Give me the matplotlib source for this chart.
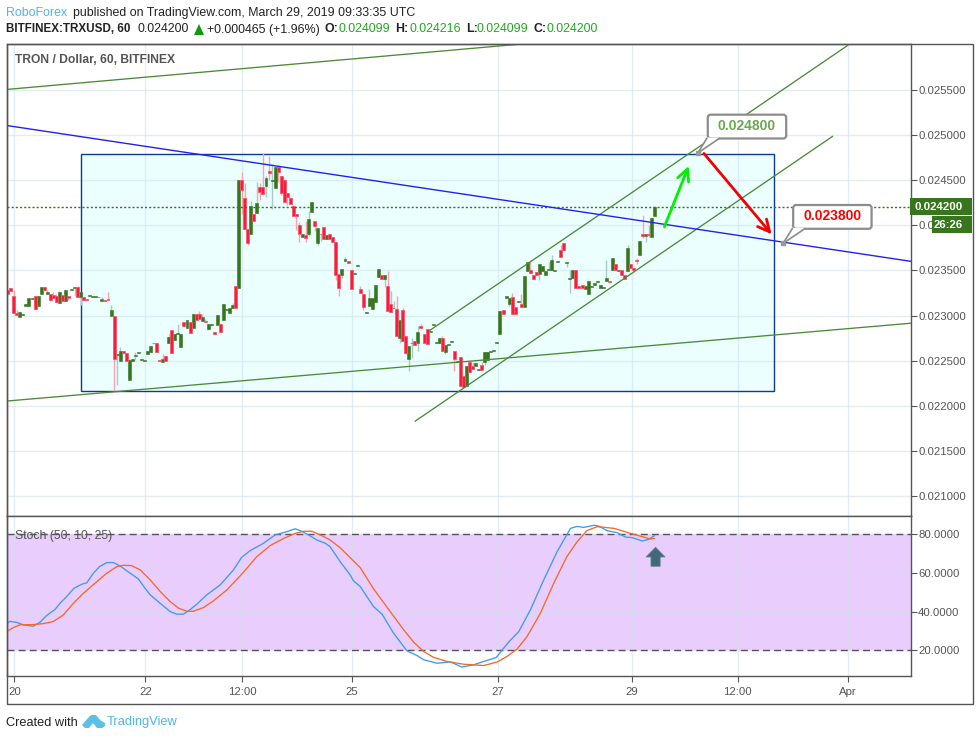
import matplotlib
matplotlib.use('Agg')
import matplotlib.pyplot as plt
from matplotlib.patches import Rectangle, Polygon, FancyBboxPatch
from matplotlib.transforms import Affine2D
import numpy as np

plt.rcParams['font.family'] = ['Liberation Sans', 'DejaVu Sans']

# hourly candles, prices in millionths of a dollar
opens = [
    23280, 23310, 23214, 23033, 22985, 23008, 23103, 23111, 23184, 23214,
    23107, 23240, 23314, 23240, 23236, 23225, 23214, 23140, 23232, 23162,
    23214, 23284, 23306, 23314, 23207, 23210, 23188, 23218, 23207, 23207,
    23203, 23162, 23177, 23181, 22993, 22993, 22565, 22499, 22613, 22591,
    22285, 22499, 22550, 22587, 22510, 22499, 22572, 22595, 22694, 22701,
    22506, 22484, 22547, 22694, 22838, 22727, 22794, 22650, 22926, 22864,
    22926, 22864, 23022, 23015, 22941, 22937, 22849, 22893, 22816, 22893,
    22912, 22949, 23059, 23026, 23085, 23332, 23306, 24504, 24305, 23962,
    23899, 24128, 24132, 24419, 24426, 24430, 24596, 24489, 24408, 24640,
    24548, 24504, 24353, 24305, 24209, 24128, 24006, 23866, 23896, 23899,
    24143, 24050, 23800, 23899, 23984, 23848, 23907, 23873, 23818, 23464,
    23446, 23604, 23608, 23508, 23461, 23549, 23298, 23243, 23033, 23103,
    23070, 23147, 23424, 23453, 23402, 23332, 23125, 23081, 23070, 22753,
    23066, 22771, 22517, 22694, 22713, 22698, 22882, 22801, 22856, 22819,
    22897, 22698, 22698, 22749, 22595, 22672, 22709, 22606, 22488, 22539,
    22336, 22222, 22484, 22440, 22440, 22399, 22451, 22488, 22506, 22598,
    22609, 22698, 22797, 23059, 23196, 23125, 23203, 23100, 23151, 23133,
    23096, 23494, 23509, 23454, 23479, 23465, 23494, 23450, 23505, 23502,
    23494, 23594, 23730, 23808, 23579, 23406, 23417, 23509, 23328, 23336,
    23291, 23240, 23317, 23336, 23372, 23306, 23306, 23380, 23380, 23502,
    23568, 23494, 23509, 23454, 23494, 23568, 23531, 23612, 23671, 23904,
    23878, 23904, 23870, 24099]
closes = [
    23243, 23273, 23030, 23004, 23037, 23015, 23125, 23199, 23196, 23074,
    23214, 23314, 23284, 23258, 23170, 23196, 23151, 23258, 23162, 23280,
    23192, 23291, 23314, 23207, 23258, 23173, 23173, 23225, 23218, 23214,
    23210, 23181, 23162, 23173, 23059, 22521, 22580, 22606, 22591, 22499,
    22506, 22517, 22558, 22595, 22517, 22506, 22606, 22661, 22701, 22598,
    22499, 22517, 22499, 22760, 22587, 22801, 22805, 22801, 22886, 22949,
    22808, 23015, 22956, 22963, 22982, 22930, 22904, 22904, 22797, 23004,
    22819, 23133, 23070, 23081, 23114, 23085, 24497, 24386, 23958, 23803,
    24209, 24043, 24242, 24364, 24345, 24519, 24574, 24497, 24644, 24589,
    24353, 24257, 24312, 24231, 24102, 24102, 23903, 23899, 23859, 24073,
    24253, 23988, 23973, 23907, 23848, 23888, 23848, 23814, 23446, 23306,
    23512, 23623, 23578, 23295, 23468, 23556, 23250, 23095, 23040, 23191,
    23191, 23335, 23512, 23405, 23453, 23047, 23041, 23089, 22771, 22949,
    22720, 22587, 22661, 22701, 22672, 22816, 22864, 22698, 22690, 22827,
    22904, 22705, 22749, 22609, 22679, 22690, 22716, 22521, 22495, 22222,
    22211, 22440, 22377, 22410, 22473, 22406, 22399, 22595, 22602, 22606,
    22617, 22705, 23048, 23022, 23214, 23199, 23019, 23019, 23159, 23096,
    23435, 23590, 23472, 23402, 23450, 23568, 23553, 23490, 23513, 23612,
    23509, 23601, 23649, 23726, 23597, 23413, 23502, 23310, 23310, 23310,
    23332, 23380, 23325, 23358, 23380, 23336, 23314, 23413, 23372, 23642,
    23509, 23509, 23450, 23406, 23745, 23527, 23502, 23601, 23822, 23885,
    23907, 23896, 24077, 24200]
highs = [
    23280, 23310, 23280, 23067, 23037, 23015, 23125, 23199, 23196, 23214,
    23214, 23314, 23314, 23280, 23236, 23262, 23243, 23269, 23232, 23280,
    23214, 23291, 23314, 23325, 23258, 23210, 23188, 23225, 23218, 23214,
    23210, 23207, 23177, 23258, 23118, 22993, 22580, 22650, 22613, 22591,
    22524, 22517, 22598, 22595, 22517, 22506, 22606, 22661, 22701, 22701,
    22506, 22580, 22547, 22801, 22838, 22801, 22904, 22801, 22926, 22949,
    22926, 23015, 23022, 23048, 23022, 22967, 22904, 22904, 22816, 23004,
    22912, 23133, 23070, 23081, 23140, 23332, 24497, 24585, 24467, 23962,
    24264, 24128, 24474, 24467, 24803, 24541, 24762, 24681, 24659, 24662,
    24548, 24504, 24353, 24305, 24209, 24128, 24032, 23899, 24043, 24154,
    24253, 24050, 23973, 23907, 23984, 23888, 23907, 23873, 23818, 23464,
    23512, 23649, 23608, 23508, 23468, 23556, 23324, 23243, 23040, 23291,
    23191, 23335, 23512, 23453, 23453, 23490, 23269, 23162, 23214, 22949,
    23081, 22771, 22661, 22753, 22713, 22882, 22912, 22801, 22856, 22827,
    22904, 22705, 22749, 22772, 22679, 22690, 22716, 22606, 22495, 22539,
    22336, 22440, 22484, 22484, 22473, 22406, 22484, 22595, 22602, 22606,
    22617, 22705, 23048, 23059, 23214, 23199, 23247, 23100, 23159, 23236,
    23435, 23590, 23612, 23454, 23479, 23568, 23553, 23490, 23594, 23667,
    23509, 23601, 23778, 23808, 23597, 23502, 23502, 23509, 23328, 23336,
    23332, 23380, 23325, 23358, 23380, 23336, 23314, 23612, 23380, 23642,
    23568, 23509, 23509, 23454, 23778, 23568, 23531, 23642, 23822, 24110,
    23907, 24000, 24077, 24216]
lows = [
    23243, 23273, 23030, 23004, 22985, 23008, 23103, 23111, 23184, 23074,
    23107, 23240, 23284, 23240, 23162, 23196, 23151, 23140, 23162, 23162,
    23170, 23284, 23218, 23207, 23114, 23173, 23173, 23218, 23207, 23207,
    23203, 23162, 23162, 23173, 22993, 22167, 22230, 22499, 22572, 22499,
    22285, 22499, 22506, 22587, 22510, 22499, 22572, 22595, 22694, 22598,
    22499, 22484, 22499, 22694, 22587, 22727, 22794, 22650, 22886, 22864,
    22808, 22864, 22956, 22963, 22941, 22930, 22838, 22893, 22797, 22893,
    22819, 22949, 23059, 23026, 23085, 23085, 23306, 24120, 23958, 23778,
    23899, 24043, 24132, 24275, 24345, 24312, 24504, 24183, 24408, 24478,
    24331, 24257, 24220, 24231, 24102, 23944, 23814, 23866, 23814, 23877,
    24143, 23936, 23778, 23822, 23848, 23848, 23848, 23814, 23390, 23217,
    23416, 23604, 23578, 23295, 23461, 23549, 23250, 23059, 23033, 23103,
    23070, 23147, 23424, 23405, 23317, 23047, 23041, 23081, 22771, 22698,
    22720, 22572, 22388, 22532, 22672, 22609, 22864, 22698, 22690, 22819,
    22897, 22698, 22698, 22609, 22572, 22672, 22709, 22384, 22488, 22222,
    22211, 22222, 22377, 22410, 22440, 22399, 22399, 22458, 22506, 22598,
    22609, 22698, 22797, 23022, 23196, 23103, 23019, 23019, 23151, 23096,
    23096, 23494, 23472, 23402, 23450, 23391, 23494, 23450, 23505, 23502,
    23494, 23594, 23649, 23726, 23538, 23251, 23417, 23310, 23310, 23310,
    23291, 23240, 23317, 23336, 23372, 23306, 23306, 23380, 23372, 23502,
    23509, 23494, 23450, 23406, 23494, 23527, 23502, 23575, 23671, 23863,
    23815, 23870, 23870, 24099]

# stochastic lines, read at the bends of each curve (bar number, value)
stoch_k_bars = [
    -0.1, 0.8, 3, 5.1, 8.4, 10.6, 12.8, 15.6, 17.2, 19.4, 21.8, 24.4, 26, 28.2, 30.2, 32.6, 34.8,
    37, 40.3, 43, 45.2, 46.9, 50.2, 53.5, 55.6, 57.8, 59.5, 62.2, 65.5, 69.9, 74.3, 77, 79.8,
    84.2, 88, 91.9, 94.6, 96.3, 99, 101.7, 104.5, 106.1, 109.4, 112.7, 113.8, 116, 120.4, 123.2,
    127, 131.4, 134.7, 136.9, 141.3, 145.7, 149.5, 153.3, 156.6, 160.8, 163.2, 165.4, 168.2, 172,
    176.4, 180.8, 185.2, 187.4, 189.6, 192.9, 194.5, 197.2, 200.5, 203.3, 205.5, 208.8, 210.9, 212.8]
stoch_k = [
    34, 35, 34.4, 33.2, 32.5, 34.5, 38, 41.2, 44.3, 47.8, 52.1, 54.2, 54.9, 59.9, 63.3, 65.4, 65.4,
    63.6, 59.9, 56.9, 52.1, 48.7, 44.3, 40, 38.7, 38.7, 40.4, 43.8, 48.7, 53.8, 61.6, 68.1, 71.6,
    75.4, 79.7, 81.4, 82.9, 81.9, 79.7, 77.1, 75.4, 73.6, 65.9, 59, 55.9, 53, 42.6, 38.7,
    28.8, 19.7, 17.3, 15.1, 13.3, 14, 11.3, 12.5, 14.2, 16.3, 21.1, 25.2, 29.7, 40.9,
    56.4, 71, 83.1, 84.1, 83.6, 84.7, 84.3, 81.9, 80.9, 78.6, 78.3, 76.6, 77.4, 79.3]
stoch_d_bars = [
    -0.1, 1.9, 4.1, 8.4, 11.7, 15, 18.3, 21.6, 24.9, 29.3, 32.6, 35.9, 38.1, 40.8, 43.6, 46.9,
    50.2, 53.5, 56.2, 59, 61.1, 64.4, 67.7, 72.1, 77.6, 82, 86.4, 90.8, 94.6, 97.4, 100.1, 102.9,
    106.1, 109.4, 116, 120.4, 125.9, 130.3, 133.6, 136.9, 140.2, 144.6, 150, 156.6, 161, 164.3,
    167.6, 170.9, 175.3, 179.7, 184, 187.4, 190.6, 194, 199.5, 205, 211.5, 212.8]
stoch_d = [
    29.9, 31.8, 33.2, 33.3, 33.8, 34.9, 38.3, 44.3, 49.5, 55.5, 59.9, 63.3, 64, 63.8, 61.6, 56.4,
    50.4, 45.2, 41.8, 40.2, 40.2, 42.1, 45.6, 51.2, 60.4, 68.5, 74.2, 77.9, 80.5, 81.6, 81.6, 79.7,
    77.1, 73.1, 62.8, 51.8, 40, 30.6, 24.2, 19.4, 16.3, 14.2, 12.8, 12.1, 13.9, 16.8,
    20.6, 27.1, 39.2, 54.7, 68.5, 76.2, 81.9, 84, 83.1, 80.5, 77.6, 77.9]

# axis ticks
x_tick_bars = [2.2, 45.3, 77.2, 113.3, 161.2, 205.3, 240.3, 276.6]
x_tick_labels = ['20', '22', '12:00', '25', '27', '29', '12:00', 'Apr']
price_ticks = [0.0210, 0.0215, 0.0220, 0.0225, 0.0230, 0.0235, 0.0240, 0.0245, 0.0250, 0.0255]
stoch_ticks = [20, 40, 60, 80]

# drawings on the chart: (bar, price) ends
top_line_bars, top_line_prices = [-0.5, 171], [0.025503, 0.026012]
blue_line_bars, blue_line_prices = [-0.5, 297.1], [0.025105, 0.023601]
low_line_bars, low_line_prices = [-0.5, 297.1], [0.022053, 0.022915]
chan_up_bars, chan_up_prices = [139, 276.4], [0.022838, 0.025990]
chan_low_bars, chan_low_prices = [134.1, 271.4], [0.021831, 0.024983]
box_bars, box_prices = [24, 252.1], [0.022163, 0.024790]
up_arrow_bars, up_arrow_prices = [216.1, 224.1], [0.023982, 0.024656]
down_arrow_bars, down_arrow_prices = [229.1, 251.4], [0.024795, 0.023900]
target_high_bar, target_high = 227.1, 0.024800
target_low_bar, target_low = 255.2, 0.023800
last_price = 0.024200

GREEN = '#38761d'
RED = '#fb1c3c'
GRAY = '#555555'
W, H = 980, 740


def fx(x):
    return x / W


def fy(y):
    return 1 - y / H


def pane(fig, left, top, right, bottom):
    ax = fig.add_axes([fx(left), fy(bottom), (right - left) / W, (bottom - top) / H])
    ax.set_xlim(-0.4, 297.1)
    ax.yaxis.tick_right()
    ax.set_axisbelow(True)
    ax.set_xticks(x_tick_bars)
    ax.grid(True, color='#cfe2ea', lw=1, alpha=0.6)
    for s in ax.spines.values():
        s.set_color(GRAY)
        s.set_linewidth(1.0)
    ax.tick_params(axis='y', length=4, color=GRAY, labelcolor=GRAY, labelsize=8.2, pad=1.5)
    ax.tick_params(axis='x', length=4, color=GRAY, labelcolor=GRAY, labelsize=8.2, pad=4)
    return ax


def draw_candles(ax):
    o = np.array(opens) / 1e6
    c = np.array(closes) / 1e6
    hi = np.array(highs) / 1e6
    lo = np.array(lows) / 1e6
    bars = np.arange(len(o))
    up = c >= o
    ax.vlines(bars[up], lo[up], hi[up], color='#a9c9c5', lw=1, zorder=2)
    ax.vlines(bars[~up], lo[~up], hi[~up], color='#f6a3b4', lw=1, zorder=2)
    ax.bar(bars[up], (c - o)[up], bottom=o[up], width=0.98, color=GREEN,
           edgecolor=GREEN, lw=0.4, zorder=3)
    ax.bar(bars[~up], (c - o)[~up], bottom=o[~up], width=0.98, color=RED,
           edgecolor='#f7596f', lw=0.6, zorder=3)


def draw_callout(fig, ax, bar, price, col):
    # box and pointer sit at a fixed pixel offset from the marked price
    at = Affine2D().translate(*ax.transData.transform((bar, price)))
    ax.add_patch(FancyBboxPatch((10, 14.5), 78.4, 23.8, boxstyle='round,pad=0,rounding_size=3', fc='white',
                                ec='#8c8c8c', lw=1.6, transform=at, zorder=7, clip_on=False))
    ax.add_patch(Polygon([(0, 0), (9, 15.5), (21.5, 15.5)], fc='white', ec='none', transform=at, zorder=7.5))
    ax.plot([9, 0, 21.5], [14.5, 0, 14.5], color='#8c8c8c', lw=1.2, transform=at, zorder=7.6)
    ax.plot([0], [0], 's', color='#999999', ms=3, transform=at, zorder=8)
    ax.text(49.2, 27.2, '%.6f' % price, color=col, fontsize=10, fontweight='bold', ha='center', va='center',
            transform=at, zorder=9)


def draw_price_pane(fig, ax):
    ax.set_ylim(0.020781, 0.026012)
    ax.set_yticks(price_ticks)
    ax.set_yticklabels(['%.6f' % p for p in price_ticks])
    ax.tick_params(axis='x', length=0, labelbottom=False)

    ax.add_patch(Rectangle((box_bars[0], box_prices[0]), box_bars[1] - box_bars[0],
                           box_prices[1] - box_prices[0], fc='#ebffff', ec='none', zorder=0.2))
    ax.add_patch(Rectangle((box_bars[0], box_prices[0]), box_bars[1] - box_bars[0],
                           box_prices[1] - box_prices[0], fc='none', ec='#0e3a92', lw=1.0, zorder=1.5))
    draw_candles(ax)
    ax.axhline(last_price, color=GREEN, lw=1, ls=(0, (1.5, 1.5)), zorder=4)

    for bars, prices in [(top_line_bars, top_line_prices), (low_line_bars, low_line_prices),
                         (chan_up_bars, chan_up_prices), (chan_low_bars, chan_low_prices)]:
        ax.plot(bars, prices, color='#4c8a36', lw=0.95, zorder=5)
    ax.plot(blue_line_bars, blue_line_prices, color='#2222ee', lw=1.0, zorder=5)

    ax.annotate('', xy=(up_arrow_bars[1], up_arrow_prices[1]), xytext=(up_arrow_bars[0], up_arrow_prices[0]),
                arrowprops=dict(arrowstyle='->,head_length=0.85,head_width=0.42', color='#00f000',
                                lw=2, shrinkA=0, shrinkB=0), zorder=6)
    ax.annotate('', xy=(down_arrow_bars[1], down_arrow_prices[1]), xytext=(down_arrow_bars[0], down_arrow_prices[0]),
                arrowprops=dict(arrowstyle='->,head_length=0.85,head_width=0.42', color='#f40000',
                                lw=2, shrinkA=0, shrinkB=0), zorder=6)

    draw_callout(fig, ax, target_high_bar, target_high, '#6aa84f')
    draw_callout(fig, ax, target_low_bar, target_low, '#ff0000')

    ax.text(8.5 / 904, 0.9645, 'TRON / Dollar, 60, BITFINEX', transform=ax.transAxes,
            color=GRAY, fontsize=8.7, fontweight='bold', va='center')


def draw_stoch_pane(ax):
    ax.set_ylim(6.7, 89.5)
    ax.axhspan(20, 80, fc='#e9cdfd', ec='none', zorder=0.2)
    ax.set_yticks(stoch_ticks)
    ax.set_yticklabels(['%.4f' % v for v in stoch_ticks])
    ax.set_xticklabels(x_tick_labels)
    ax.axhline(80, color='#5b4f63', lw=1, ls=(0, (5, 3)), zorder=2)
    ax.axhline(20, color='#5b4f63', lw=1, ls=(0, (5, 3)), zorder=2)
    ax.plot(stoch_k_bars, stoch_k, color='#3d9bf0', lw=0.95, zorder=3)
    ax.plot(stoch_d_bars, stoch_d, color='#f5682a', lw=0.95, zorder=4)
    ax.arrow(213.2, 63.5, 0, 9.8, width=3, head_width=6.2, head_length=5, length_includes_head=True,
             fc='#42697a', ec='#5f7f90', lw=0.6, zorder=5)
    ax.text(8.5 / 904, 0.875, 'Stoch (50, 10, 25)', transform=ax.transAxes, color=GRAY,
            fontsize=8.8, va='center')


def draw_frame(fig):
    fig.add_artist(Rectangle((fx(6.5), fy(703.5)), (973 - 6.5) / W, (703.5 - 43.5) / H, fill=False,
                             ec=GRAY, lw=1.0, transform=fig.transFigure, zorder=0.5))
    # price flags on the right
    for left, top, right, bottom, label in [(910, 198, 972, 215, '%.6f' % last_price),
                                            (932, 216, 972, 233, '26:26')]:
        fig.add_artist(Rectangle((fx(left), fy(bottom)), (right - left) / W, (bottom - top) / H,
                                 fc=GREEN, ec='none', transform=fig.transFigure, zorder=3))
        fig.text(fx(963), fy((top + bottom) / 2), label, color='white', fontsize=8.2, fontweight='bold',
                 ha='right', va='center', zorder=4)


def draw_header(fig):
    blue = '#4db7e5'
    dark = '#222222'
    quote = '#22a722'
    fs = 8.9
    fig.text(fx(6), fy(13), 'RoboForex', color=blue, fontsize=fs, va='center')
    fig.text(fx(73), fy(13), 'published on TradingView.com, March 29, 2019 09:33:35 UTC', color=dark, fontsize=fs, va='center')
    fig.text(fx(6), fy(29.5), 'BITFINEX:TRXUSD, 60', color=dark, fontsize=8.4, fontweight='bold', va='center')
    fig.text(fx(137), fy(29.5), '0.024200', color=dark, fontsize=fs, va='center')
    fig.add_artist(Polygon([(fx(194), fy(35)), (fx(204), fy(35)), (fx(199), fy(24))], fc='#0a9a0a', ec='none',
                           transform=fig.transFigure))
    fig.text(fx(207), fy(29.5), '+0.000465 (+1.96%)', color=dark, fontsize=fs, va='center')
    for lx, label, vx, value in [(324, 'O:', 338, '0.024099'), (395, 'H:', 409, '0.024216'),
                                 (466, 'L:', 476, '0.024099'), (534, 'C:', 546, '0.024200')]:
        fig.text(fx(lx), fy(29.5), label, color=dark, fontsize=fs, fontweight='bold', va='center')
        fig.text(fx(vx), fy(29.5), value, color=quote, fontsize=fs, va='center')


def draw_footer(fig):
    fig.text(fx(6), fy(722.5), 'Created with', color='#222222', fontsize=9.2, va='center')
    fig.text(fx(107), fy(722.5), 'TradingView', color='#4db7e5', fontsize=9.3, va='center')
    logo = [(82, 725), (88, 718), (91, 715), (96, 715), (100, 720), (105, 723), (105, 726), (102, 728), (97, 728),
            (93, 723), (89, 728), (85, 728)]
    fig.add_artist(Polygon([(fx(x), fy(y)) for x, y in logo], fc='#5cc0e6', ec='none', transform=fig.transFigure))


def main():
    fig = plt.figure(figsize=(W / 100, H / 100), dpi=100)
    ax = pane(fig, 6.5, 43.5, 910.5, 516)
    ax2 = pane(fig, 6.5, 516, 910.5, 676)
    draw_price_pane(fig, ax)
    draw_stoch_pane(ax2)
    draw_frame(fig)
    draw_header(fig)
    draw_footer(fig)
    fig.savefig('out.png', dpi=100)
    plt.close(fig)


if __name__ == '__main__':
    main()
